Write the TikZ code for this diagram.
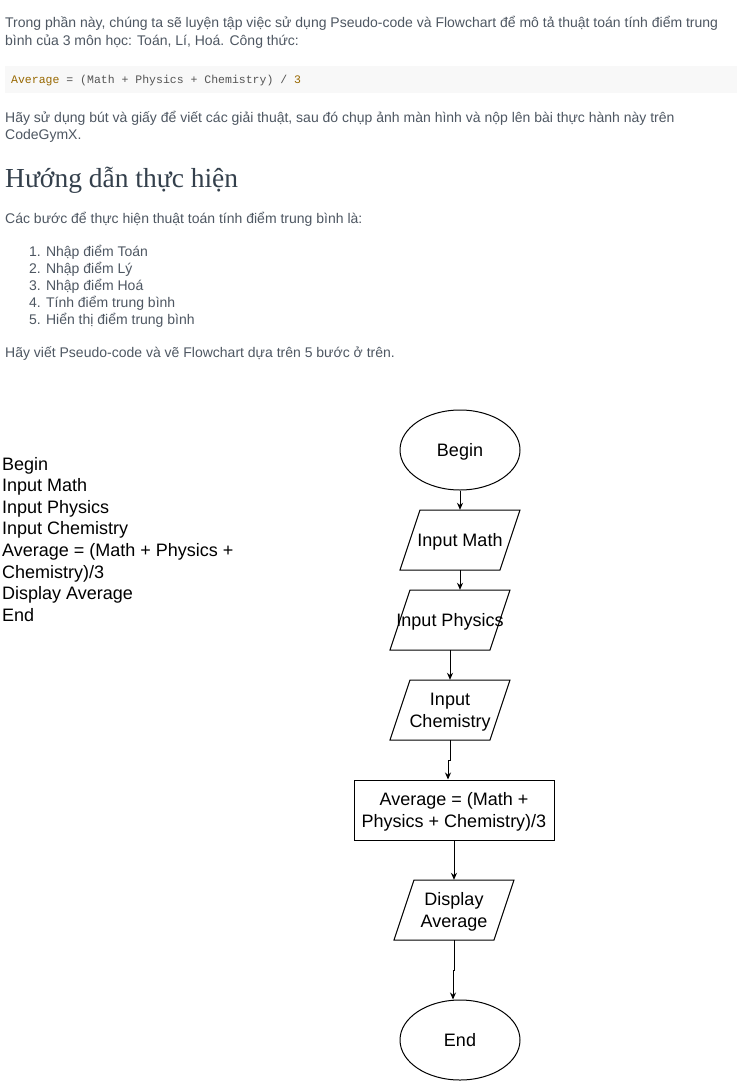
\documentclass[tikz,border=0pt]{standalone}
\usepackage{fontspec}
\setmainfont{Liberation Sans}
\newfontfamily\headfont{Liberation Serif}
\newfontfamily\codefont{Liberation Mono}
\usetikzlibrary{shapes.geometric,arrows.meta,calc}
\definecolor{bodyc}{RGB}{78,87,98}
\definecolor{headc}{RGB}{52,64,76}
\definecolor{codebg}{RGB}{248,248,248}
\definecolor{codec}{RGB}{85,85,85}
\definecolor{kwc}{RGB}{152,104,1}
\newcommand\paral[1]{\draw[shp] ($(#1.center)+(-60,30)$) -- ($(#1.center)+(-40,-30)$) -- ($(#1.center)+(60,-30)$) -- ($(#1.center)+(40,30)$) -- cycle;}
\begin{document}
\begin{tikzpicture}[x=1pt,y=-1pt,
  body/.style={anchor=base west, inner sep=0, text=bodyc, font=\fontsize{14}{17}\selectfont},
  head/.style={anchor=base west, inner sep=0, text=headc, font=\headfont\fontsize{27.5}{32}\selectfont},
  code/.style={anchor=base west, inner sep=0, text=codec, font=\codefont\fontsize{11.5}{14}\selectfont},
  pseudo/.style={anchor=base west, inner sep=0, text=black, font=\fontsize{18}{21.6}\selectfont},
  shp/.style={draw=black, line width=1pt},
  lbl/.style={font=\fontsize{18}{21.6}\selectfont, align=center, text=black, text depth=0pt},
  term/.style={ellipse, shp, lbl, minimum width=120, minimum height=80, inner sep=0},
  io/.style={lbl, inner sep=0, minimum width=100, minimum height=60},
  procbox/.style={rectangle, shp, lbl, inner sep=0, minimum width=200, minimum height=60},
  arr/.style={line width=1pt, -{Stealth[length=7pt,width=6pt]}}
]
\useasboundingbox[fill=white] (0,0) rectangle (741,1081);

% top text
\node[body] (t1) at (5,28) {Trong phần này, chúng ta sẽ luyện tập việc sử dụng Pseudo-code và Flowchart để mô tả thuật toán tính điểm trung};
\node[body] (t2) at (5,45.5) {bình của 3 môn học: Toán, Lí, Hoá. Công thức:};
\fill[codebg] (5,66) rectangle (737,93);
\node[code] (c1) at (11,84) {{\color{kwc}Average} = (Math + Physics + Chemistry) / {\color{kwc}3}};
\node[body] (t3) at (5,122) {Hãy sử dụng bút và giấy để viết các giải thuật, sau đó chụp ảnh màn hình và nộp lên bài thực hành này trên};
\node[body] (t4) at (5,139) {CodeGymX.};
\node[head] (h1) at (5,187) {Hướng dẫn thực hiện};
\node[body] (t5) at (5,223) {Các bước để thực hiện thuật toán tính điểm trung bình là:};
\node[body] (l1) at (29,256) {1. Nhập điểm Toán};
\node[body] (l2) at (29,273) {2. Nhập điểm Lý};
\node[body] (l3) at (29,290) {3. Nhập điểm Hoá};
\node[body] (l4) at (29,307) {4. Tính điểm trung bình};
\node[body] (l5) at (29,324) {5. Hiển thị điểm trung bình};
\node[body] (t6) at (5,357) {Hãy viết Pseudo-code và vẽ Flowchart dựa trên 5 bước ở trên.};

% pseudo-code
\node[pseudo] (p1) at (2,470) {Begin};
\node[pseudo] (p2) at (2,491.6) {Input Math};
\node[pseudo] (p3) at (2,513.2) {Input Physics};
\node[pseudo] (p4) at (2,534.8) {Input Chemistry};
\node[pseudo] (p5) at (2,556.4) {Average = (Math + Physics +};
\node[pseudo] (p6) at (2,578) {Chemistry)/3};
\node[pseudo] (p7) at (2,599.6) {Display Average};
\node[pseudo] (p8) at (2,621.2) {End};

% flowchart
\node[term] (begin) at (460,450) {Begin};
\node[io] (math) at (460,540) {Input Math};
\paral{math}
\node[io] (phys) at (450,620) {Input Physics};
\paral{phys}
\node[io] (chem) at (450,710) {Input\\Chemistry};
\paral{chem}
\node[procbox] (avg) at (454,810) {Average = (Math +\\Physics + Chemistry)/3};
\node[io] (disp) at (454,910) {Display\\Average};
\paral{disp}
\node[term] (end) at (460,1040) {End};

\draw[arr] (begin.south) -- (math.north);
\draw[arr] (math.south) -- (math.south |- phys.north);
\draw[arr] (phys.south) -- (chem.north);
\draw[arr] (chem.south) -- ++(0,20) -| ([xshift=-6pt]avg.north);
\draw[arr] (avg.south) -- (disp.north);
\draw[arr] (disp.south) -- ++(0,30) -| ([xshift=-7pt]end.north);
\end{tikzpicture}
\end{document}
